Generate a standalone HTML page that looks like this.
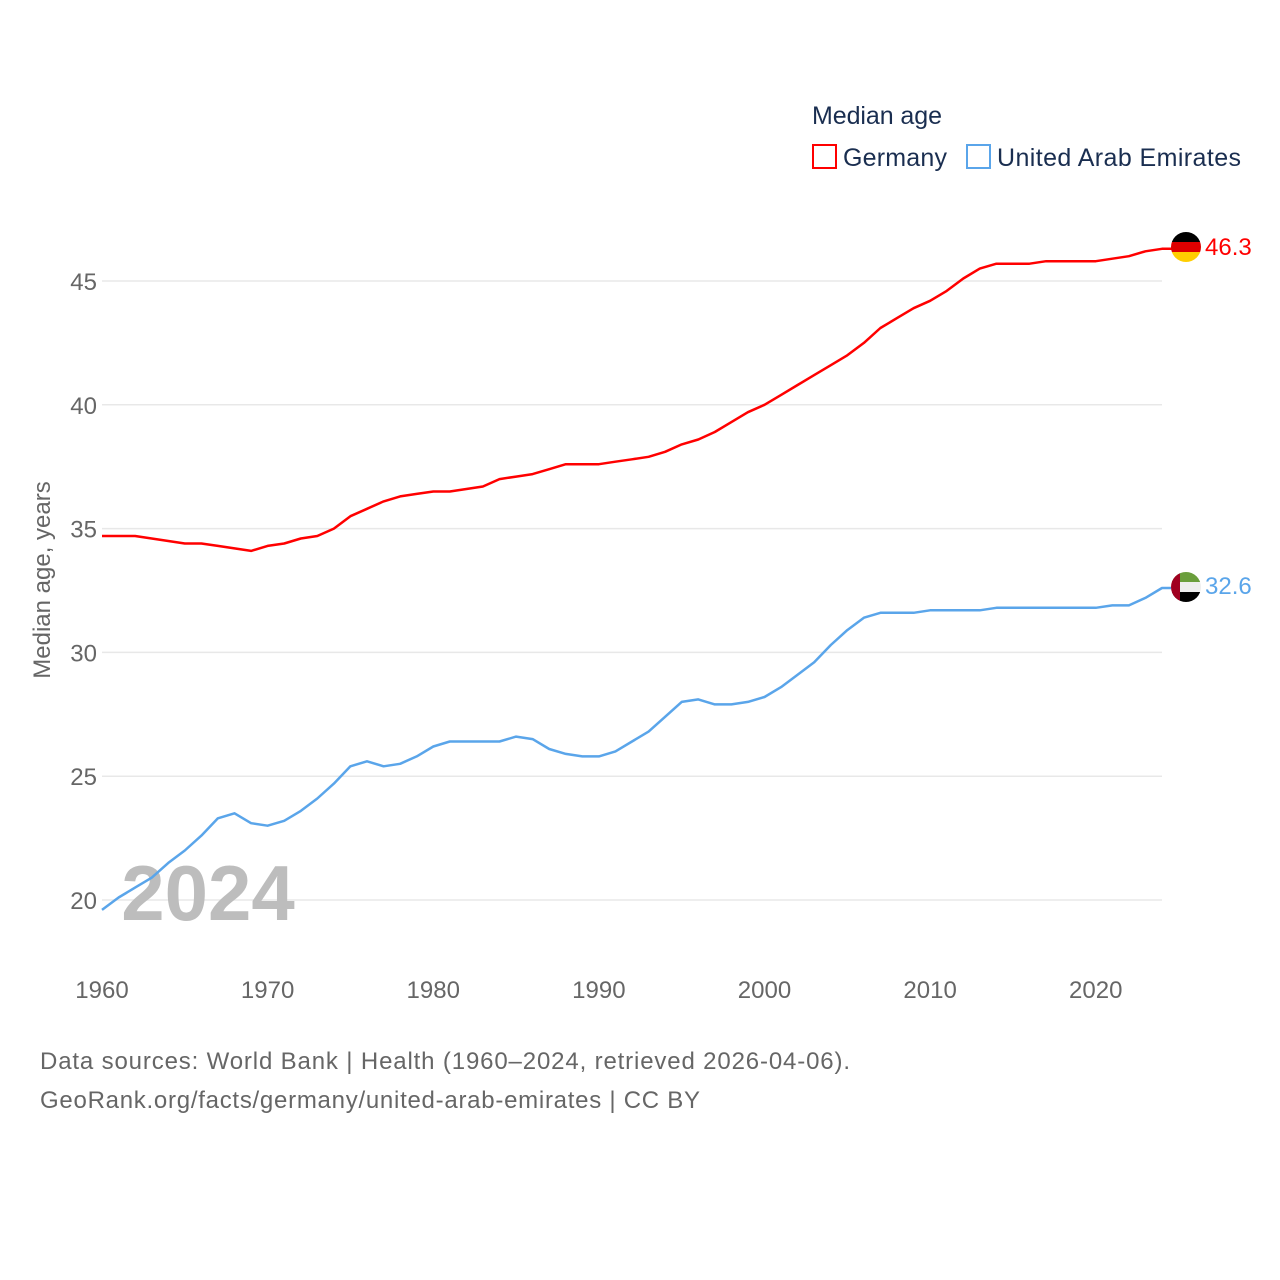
<!DOCTYPE html>
<html><head><meta charset="utf-8"><style>
html,body{margin:0;padding:0;background:#fff;}
svg{display:block;font-family:"Liberation Sans",sans-serif;}
</style></head><body>
<svg id="chart" width="1280" height="1280" viewBox="0 0 1280 1280">
<defs>
<clipPath id="cde"><circle cx="1186" cy="247" r="15"/></clipPath>
<clipPath id="cae"><circle cx="1186" cy="587" r="15"/></clipPath>
</defs>
<g id="grid"></g>
<g id="yticks"></g>
<g id="xticks"></g>
<text x="208" y="920" font-size="78" font-weight="bold" fill="#bdbdbd" text-anchor="middle">2024</text>
<text transform="translate(50,580) rotate(-90)" font-size="24" fill="#666" text-anchor="middle">Median age, years</text>
<g id="lines"></g>
<g clip-path="url(#cde)">
<rect x="1171" y="232" width="30" height="10" fill="#000"/><rect x="1171" y="242" width="30" height="10" fill="#dd0000"/><rect x="1171" y="252" width="30" height="10" fill="#ffce00"/>
</g>
<g clip-path="url(#cae)">
<rect x="1171" y="572" width="30" height="10" fill="#6a9e3c"/><rect x="1171" y="582" width="30" height="10" fill="#eee"/><rect x="1171" y="592" width="30" height="10" fill="#000"/><rect x="1171" y="572" width="9" height="30" fill="#a00020"/>
</g>
<text id="lblDe" x="1205" y="255" font-size="24" fill="#ff0000"></text>
<text id="lblAe" x="1205" y="594" font-size="24" fill="#5aa5ea"></text>
<text x="812" y="124" font-size="25" fill="#1a2e50" textLength="130">Median age</text>
<g>
<rect x="813" y="145" width="23" height="23" fill="none" stroke="#ff0000" stroke-width="2"/>
<text x="843" y="166" font-size="25" fill="#1a2e50" textLength="104">Germany</text></g>
<g>
<rect x="967" y="145" width="23" height="23" fill="none" stroke="#5aa5ea" stroke-width="2"/>
<text x="997" y="166" font-size="25" fill="#1a2e50" textLength="244">United Arab Emirates</text></g>
<text x="40" y="1069" font-size="24" fill="#666" textLength="810">Data sources: World Bank | Health (1960–2024, retrieved 2026-04-06).</text>
<text x="40" y="1108" font-size="24" fill="#666" textLength="660">GeoRank.org/facts/germany/united-arab-emirates | CC BY</text>
</svg>
<script>
const years = [];for(let y=1960;y<=2024;y++)years.push(y);
const germany = [34.7,34.7,34.7,34.6,34.5,34.4,34.4,34.3,34.2,34.1,34.3,34.4,34.6,34.7,35.0,35.5,35.8,36.1,36.3,36.4,36.5,36.5,36.6,36.7,37.0,37.1,37.2,37.4,37.6,37.6,37.6,37.7,37.8,37.9,38.1,38.4,38.6,38.9,39.3,39.7,40.0,40.4,40.8,41.2,41.6,42.0,42.5,43.1,43.5,43.9,44.2,44.6,45.1,45.5,45.7,45.7,45.7,45.8,45.8,45.8,45.8,45.9,46.0,46.2,46.3];
const uae = [19.6,20.1,20.5,20.9,21.5,22.0,22.6,23.3,23.5,23.1,23.0,23.2,23.6,24.1,24.7,25.4,25.6,25.4,25.5,25.8,26.2,26.4,26.4,26.4,26.4,26.6,26.5,26.1,25.9,25.8,25.8,26.0,26.4,26.8,27.4,28.0,28.1,27.9,27.9,28.0,28.2,28.6,29.1,29.6,30.3,30.9,31.4,31.6,31.6,31.6,31.7,31.7,31.7,31.7,31.8,31.8,31.8,31.8,31.8,31.8,31.8,31.9,31.9,32.2,32.6];
const yTicks = [20,25,30,35,40,45];
const xTicks = [1960,1970,1980,1990,2000,2010,2020];
const NS="http://www.w3.org/2000/svg";
const xs = y => 102 + (y-1960)*(1162-102)/64;
const ys = v => 900 - (v-20)*(900-281)/25;
function mk(tag,attrs,parent){const e=document.createElementNS(NS,tag);for(const k in attrs)e.setAttribute(k,attrs[k]);parent.appendChild(e);return e;}
const grid=document.getElementById('grid'),yt=document.getElementById('yticks'),xt=document.getElementById('xticks'),lines=document.getElementById('lines');
yTicks.forEach(v=>{
  const l=mk('line',{x1:102,x2:1162,y1:ys(v),y2:ys(v),stroke:'#e8e8e8','stroke-width':1.5},grid);
  
  
  const t=mk('text',{x:97,y:ys(v)+9,'font-size':24,fill:'#666','text-anchor':'end'},yt);
  t.textContent=v;
  
  
});
xTicks.forEach(v=>{
  const t=mk('text',{x:xs(v),y:998,'font-size':24,fill:'#666','text-anchor':'middle'},xt);
  t.textContent=v;
  
  
});
function line(data,color,name){
  const d=data.map((v,i)=>(i?'L':'M')+xs(years[i]).toFixed(1)+','+ys(v).toFixed(1)).join('')+'h10';
  const p=mk('path',{d:d,fill:'none',stroke:color,'stroke-width':2.5,'stroke-linejoin':'round'},lines);
  
  
}
line(germany,'#ff0000','germany-line');
line(uae,'#5aa5ea','uae-line');
document.getElementById('lblDe').textContent=germany[germany.length-1].toFixed(1);
document.getElementById('lblAe').textContent=uae[uae.length-1].toFixed(1);
</script>
</body></html>
